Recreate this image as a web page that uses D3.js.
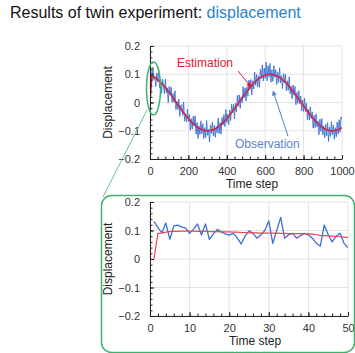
<!DOCTYPE html>
<meta charset="utf-8">
<style>
body { margin: 0; background: #fff; }
svg { font-family: "Liberation Sans", Arial, sans-serif; }
.grid line { stroke: #e2e2e2; }
.axis path, .axis line { stroke: #222; }
.axis text { fill: #333; font-size: 11px; }
.label { font-size: 12px; fill: #222; }
</style>
<svg width="355" height="353"></svg>
<script src="https://d3js.org/d3.v7.min.js"></script>
<script>

// full run: observation every 5 steps, estimation every 10 steps
var obsStep = 5, estStep = 10;
var fullObs = [
  0.130, 0.121, 0.076, 0.125, 0.081, 0.094, 0.056, 0.104, 0.073, 0.118,
  0.053, 0.084, 0.033, 0.083, 0.063, 0.032, 0.083, 0.034, 0.052, 0.000,
  0.057, 0.026, 0.054, 0.002, 0.032, 0.000, 0.042, -0.025, 0.004, -0.025,
  0.012, -0.049, -0.012, -0.007, -0.045, 0.002, -0.066, -0.041, -0.069, -0.023,
  -0.067, -0.043, -0.098, -0.057, -0.094, -0.049, -0.084, -0.047, -0.112, -0.071,
  -0.127, -0.083, -0.113, -0.065, -0.110, -0.075, -0.128, -0.089, -0.124, -0.064,
  -0.116, -0.096, -0.140, -0.079, -0.110, -0.069, -0.118, -0.081, -0.123, -0.085,
  -0.107, -0.055, -0.110, -0.071, -0.112, -0.053, -0.080, -0.043, -0.085, -0.025,
  -0.071, -0.041, -0.079, -0.027, -0.064, -0.006, -0.037, -0.007, -0.058, -0.003,
  -0.034, 0.025, -0.014, 0.027, -0.021, 0.020, -0.001, 0.056, 0.016, 0.051,
  0.005, 0.056, 0.022, 0.079, 0.045, 0.081, 0.027, 0.077, 0.048, 0.108,
  0.061, 0.100, 0.055, 0.094, 0.054, 0.117, 0.085, 0.133, 0.076, 0.122,
  0.085, 0.143, 0.077, 0.130, 0.090, 0.138, 0.072, 0.116, 0.075, 0.130,
  0.089, 0.116, 0.064, 0.107, 0.071, 0.123, 0.070, 0.094, 0.049, 0.102,
  0.069, 0.100, 0.042, 0.077, 0.043, 0.091, 0.031, 0.057, 0.014, 0.062,
  0.025, 0.057, -0.008, 0.036, -0.003, 0.042, -0.005, 0.023, -0.030, 0.009,
  -0.032, 0.015, -0.032, -0.003, -0.061, -0.024, -0.062, -0.015, -0.057, -0.033,
  -0.091, -0.045, -0.089, -0.041, -0.086, -0.065, -0.114, -0.059, -0.102, -0.057,
  -0.115, -0.083, -0.125, -0.077, -0.118, -0.071, -0.138, -0.087, -0.120, -0.068,
  -0.114, -0.080, -0.130, -0.089, -0.122, -0.069, -0.112, -0.061, -0.105, -0.051,
  -0.059
];
var fullEst = [
  0.000, 0.094, 0.091, 0.086, 0.081, 0.075, 0.068, 0.061, 0.053, 0.044,
  0.035, 0.026, 0.017, 0.007, -0.002, -0.012, -0.022, -0.031, -0.040, -0.049,
  -0.057, -0.065, -0.072, -0.078, -0.084, -0.089, -0.093, -0.096, -0.098, -0.100,
  -0.100, -0.100, -0.098, -0.096, -0.093, -0.089, -0.084, -0.078, -0.072, -0.065,
  -0.057, -0.049, -0.040, -0.031, -0.022, -0.012, -0.002, 0.007, 0.017, 0.026,
  0.035, 0.044, 0.053, 0.061, 0.068, 0.075, 0.081, 0.086, 0.091, 0.094,
  0.097, 0.099, 0.100, 0.100, 0.099, 0.097, 0.094, 0.091, 0.086, 0.081,
  0.075, 0.068, 0.061, 0.053, 0.044, 0.035, 0.026, 0.017, 0.007, -0.002,
  -0.012, -0.022, -0.031, -0.040, -0.049, -0.057, -0.065, -0.072, -0.078, -0.084,
  -0.089, -0.093, -0.096, -0.098, -0.100, -0.100, -0.100, -0.098, -0.096, -0.093,
  -0.089
];

// first 50 steps, one value per step (t = 1..50)
var zoomObs = [
  0.131, 0.110, 0.092, 0.126, 0.069, 0.116, 0.119, 0.113, 0.108, 0.090,
  0.105, 0.123, 0.084, 0.123, 0.069, 0.088, 0.104, 0.095, 0.088, 0.084,
  0.090, 0.075, 0.053, 0.080, 0.099, 0.090, 0.073, 0.085, 0.100, 0.134,
  0.055, 0.100, 0.146, 0.073, 0.085, 0.090, 0.073, 0.082, 0.090, 0.085,
  0.073, 0.055, 0.045, 0.119, 0.085, 0.060, 0.080, 0.090, 0.055, 0.040
];
var zoomEst = [
  0.000, 0.090, 0.091, 0.094, 0.096, 0.097, 0.097, 0.098, 0.098, 0.098,
  0.098, 0.097, 0.097, 0.097, 0.096, 0.096, 0.096, 0.095, 0.095, 0.095,
  0.094, 0.094, 0.093, 0.093, 0.092, 0.092, 0.092, 0.091, 0.091, 0.091,
  0.091, 0.091, 0.090, 0.090, 0.089, 0.089, 0.089, 0.089, 0.089, 0.088,
  0.087, 0.085, 0.083, 0.082, 0.081, 0.080, 0.079, 0.078, 0.077, 0.075
];

var yTicks = [-0.2, -0.1, 0, 0.1, 0.2];
var fullXTicks = [0, 200, 400, 600, 800, 1000];
var zoomXTicks = [0, 10, 20, 30, 40, 50];

var obsColor = "#3b6fd4", estColor = "#d81e3c", green = "#3cb36e";

var svg = d3.select("svg");

// title
var title = svg.append("text")
    .attr("x", 10)
    .attr("y", 18)
    .attr("font-size", "16px");
title.append("tspan").attr("fill", "#111").text("Results of twin experiment: ");
title.append("tspan").attr("fill", "#2d83c6").text("displacement");

function panel(xDomain, xRange, yRange, xTicks, minorX, obs, obsX, est, estX, obsW, estW, estCol) {
  var x = d3.scaleLinear().domain(xDomain).range(xRange),
      y = d3.scaleLinear().domain([-0.2, 0.2]).range(yRange);
  var g = svg.append("g");

  g.append("g").attr("class", "grid")
    .selectAll("line").data(xTicks).enter().append("line")
      .attr("x1", function(d) { return x(d); }).attr("x2", function(d) { return x(d); })
      .attr("y1", yRange[0]).attr("y2", yRange[1]);
  g.append("g").attr("class", "grid")
    .selectAll("line").data(yTicks).enter().append("line")
      .attr("y1", function(d) { return y(d); }).attr("y2", function(d) { return y(d); })
      .attr("x1", xRange[0]).attr("x2", xRange[1]);

  var clipId = "clip" + Math.round(yRange[1]);
  g.append("clipPath").attr("id", clipId).append("rect")
      .attr("x", xRange[0]).attr("y", yRange[1])
      .attr("width", xRange[1] - xRange[0]).attr("height", yRange[0] - yRange[1]);

  g.append("path")
      .datum(obs)
      .attr("clip-path", "url(#" + clipId + ")")
      .attr("fill", "none")
      .attr("stroke", obsColor)
      .attr("stroke-width", obsW)
      .attr("stroke-linejoin", "round")
      .attr("d", d3.line().x(function(d, i) { return x(obsX(i)); }).y(function(d) { return y(d); }));

  g.append("path")
      .datum(est)
      .attr("clip-path", "url(#" + clipId + ")")
      .attr("fill", "none")
      .attr("stroke", estCol)
      .attr("stroke-width", estW)
      .attr("d", d3.line().x(function(d, i) { return x(estX(i)); }).y(function(d) { return y(d); }));

  // minor ticks
  g.append("g").attr("class", "axis")
      .attr("transform", "translate(" + xRange[0] + ",0)")
      .call(d3.axisLeft(y).tickValues(d3.range(-0.2, 0.2001, 0.02)).tickSize(-2.5).tickFormat(""))
      .select(".domain").remove();
  g.append("g").attr("class", "axis")
      .attr("transform", "translate(0," + yRange[0] + ")")
      .call(d3.axisBottom(x).tickValues(minorX).tickSize(-2.5).tickFormat(""))
      .select(".domain").remove();

  g.append("g").attr("class", "axis")
      .attr("transform", "translate(" + xRange[0] + ",0)")
      .call(d3.axisLeft(y).tickValues(yTicks).tickSizeInner(-4).tickSizeOuter(0).tickPadding(10)
        .tickFormat(function(d) { return d === 0 ? "0" : d3.format(".1f")(d); }));
  g.append("g").attr("class", "axis")
      .attr("transform", "translate(0," + yRange[0] + ")")
      .call(d3.axisBottom(x).tickValues(xTicks).tickSizeInner(-4).tickSizeOuter(0).tickPadding(8)
        .tickFormat(d3.format("d")));

  g.append("text").attr("class", "label")
      .attr("x", (xRange[0] + xRange[1]) / 2 + 6)
      .attr("y", yRange[0] + 29)
      .attr("text-anchor", "middle")
      .text("Time step");
  g.append("text").attr("class", "label")
      .attr("transform", "translate(112," + ((yRange[0] + yRange[1]) / 2) + ")rotate(-90)")
      .attr("text-anchor", "middle")
      .text("Displacement");

  return { x: x, y: y };
}

var top = panel([0, 1000], [150, 342], [159, 46], fullXTicks, d3.range(0, 1001, 40),
  fullObs, function(i) { return i * obsStep; },
  fullEst, function(i) { return i * estStep; }, 0.9, 1.5, estColor);

var low = panel([0, 50], [150, 348], [316, 202], zoomXTicks, d3.range(0, 51, 2),
  zoomObs, function(i) { return i + 1; },
  zoomEst, function(i) { return i + 1; }, 1.3, 1.2, "#ef4455");

// annotations
svg.append("defs").selectAll("marker")
  .data([["arrRed", estColor], ["arrBlue", "#5a80c4"]])
  .enter().append("marker")
    .attr("id", function(d) { return d[0]; })
    .attr("viewBox", "0 0 10 10").attr("refX", 9).attr("refY", 5)
    .attr("markerWidth", 5).attr("markerHeight", 5).attr("orient", "auto")
  .append("path").attr("d", "M0,0L10,5L0,10z").attr("fill", function(d) { return d[1]; });

svg.append("text").attr("x", 177).attr("y", 67)
    .attr("font-size", "12px").attr("fill", "#e0202e").text("Estimation");
svg.append("line").attr("x1", 238).attr("y1", 71).attr("x2", 251).attr("y2", 87)
    .attr("stroke", estColor).attr("stroke-width", 1).attr("marker-end", "url(#arrRed)");

svg.append("text").attr("x", 235).attr("y", 148)
    .attr("font-size", "12px").attr("fill", "#5a84c8").text("Observation");
svg.append("line").attr("x1", 288).attr("y1", 136).attr("x2", 273).attr("y2", 91)
    .attr("stroke", "#5a80c4").attr("stroke-width", 1).attr("marker-end", "url(#arrBlue)");

// zoom highlight
svg.append("ellipse")
    .attr("cx", 153.5).attr("cy", 88.5).attr("rx", 7).attr("ry", 26.5)
    .attr("fill", "none").attr("stroke", green).attr("stroke-width", 1.5);
svg.append("line").attr("x1", 147).attr("y1", 110).attr("x2", 103).attr("y2", 197)
    .attr("stroke", green).attr("stroke-width", 0.8);
svg.append("rect")
    .attr("x", 101.5).attr("y", 195.5).attr("width", 253).attr("height", 157)
    .attr("rx", 10).attr("ry", 10)
    .attr("fill", "none").attr("stroke", green).attr("stroke-width", 1.5);

</script>
